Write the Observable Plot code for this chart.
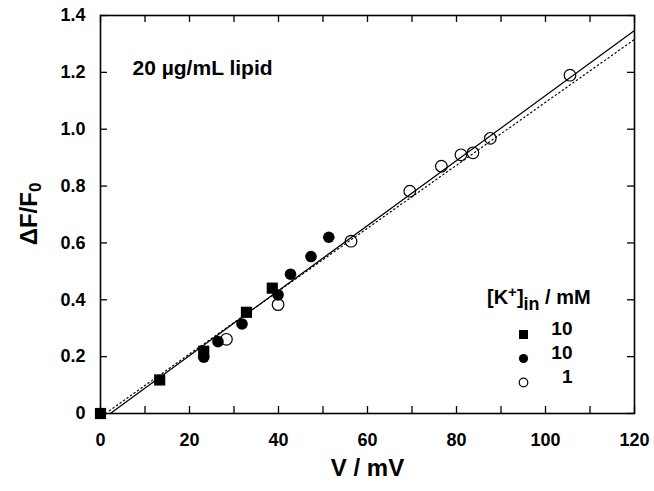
<!DOCTYPE html>
<html>
<head>
<meta charset="utf-8">
<script src="https://cdn.jsdelivr.net/npm/d3@7"></script>
<script src="https://cdn.jsdelivr.net/npm/@observablehq/plot@0.6"></script>
<style>
  html, body { margin: 0; padding: 0; background: #fff; }
  #chart svg { display: block; }
</style>
</head>
<body>
<div id="chart"></div>
<script>
// ---- data ----
const squareX = [0, 13.3, 23.2, 32.8, 38.6];
const squareY = [0, 0.118, 0.219, 0.356, 0.441];
const filledX = [23.2, 26.4, 31.8, 39.9, 42.7, 47.3, 51.3];
const filledY = [0.198, 0.253, 0.315, 0.417, 0.490, 0.552, 0.620];
const openX = [28.3, 39.9, 56.3, 69.5, 76.6, 81.0, 83.7, 87.6, 105.5];
const openY = [0.261, 0.383, 0.606, 0.782, 0.870, 0.910, 0.917, 0.968, 1.19];
// fitted lines (end points)
const solidFitX = [2.2, 120];
const solidFitY = [0, 1.347];
const dottedFitX = [2.0, 120];
const dottedFitY = [0.01, 1.316];
// ticks
const xTicks = [0, 20, 40, 60, 80, 100, 120];
const xMinorTicks = [0, 10, 20, 30, 40, 50, 60, 70, 80, 90, 100, 110, 120];
const yTicks = [0, 0.2, 0.4, 0.6, 0.8, 1.0, 1.2, 1.4];
const legendLabels = ["10", "10", "1"];
const annotation = "20 µg/mL lipid";
const xTitle = "V / mV";

const zip = (xs, ys) => xs.map((x, i) => ({x, y: ys[i]}));
const squares = zip(squareX, squareY);
const filled = zip(filledX, filledY);
const open = zip(openX, openY);
const solidFit = zip(solidFitX, solidFitY);
const dottedFit = zip(dottedFitX, dottedFitY);

const W = 654, H = 491;
const mL = 100, mR = 20, mT = 15, mB = 78;
const plotH = H - mT - mB, plotW = W - mL - mR;
const tickLen = 7;
const FONT = "'Liberation Sans', Arial, Helvetica, sans-serif";

const chart = Plot.plot({
  width: W, height: H,
  marginLeft: mL, marginRight: mR, marginTop: mT, marginBottom: mB,
  style: {fontFamily: FONT, fontWeight: "bold", color: "black", background: "white"},
  x: {domain: [0, 120]},
  y: {domain: [0, 1.4]},
  marks: [
    // inward ticks on all four sides
    Plot.tickX(xMinorTicks, {x: d => d, insetTop: plotH - tickLen, stroke: "black", strokeWidth: 1.3}),
    Plot.tickX(xMinorTicks, {x: d => d, insetBottom: plotH - tickLen, stroke: "black", strokeWidth: 1.3}),
    Plot.tickY(yTicks, {y: d => d, insetRight: plotW - tickLen, stroke: "black", strokeWidth: 1.3}),
    Plot.tickY(yTicks, {y: d => d, insetLeft: plotW - tickLen, stroke: "black", strokeWidth: 1.3}),
    Plot.axisX({ticks: xTicks, tickSize: 0, tickPadding: 20, fontSize: 18, fontWeight: "bold", label: null, tickFormat: d => String(d)}),
    Plot.axisY({ticks: yTicks, tickSize: 0, tickPadding: 15, fontSize: 18, fontWeight: "bold", label: null,
      tickFormat: d => d === 0 ? "0" : d.toFixed(1)}),
    Plot.frame({stroke: "black", strokeWidth: 1.6}),
    // data
    Plot.dot(open, {x: "x", y: "y", r: 5.8, stroke: "black", strokeWidth: 1.2, fill: "none"}),
    Plot.dot(filled, {x: "x", y: "y", r: 5.8, fill: "black"}),
    Plot.dot(squares, {x: "x", y: "y", symbol: "square", r: 6.3, fill: "black"}),
    Plot.line(dottedFit, {x: "x", y: "y", stroke: "black", strokeWidth: 1.2, strokeDasharray: "1.3,3"}),
    Plot.line(solidFit, {x: "x", y: "y", stroke: "black", strokeWidth: 1.3}),
    // annotation and x title
    Plot.text([annotation], {frameAnchor: "top-left", dx: 32, dy: 45, textAnchor: "start", fontSize: 21, fontWeight: "bold", fill: "black"}),
    Plot.text([xTitle], {frameAnchor: "bottom", dy: 62, fontSize: 24, fontWeight: "bold", fill: "black"}),
    // legend
    Plot.dot([0], {frameAnchor: "bottom-right", dx: -111, dy: -79, symbol: "square", r: 5.1, fill: "black"}),
    Plot.dot([0], {frameAnchor: "bottom-right", dx: -111, dy: -55, r: 4.6, fill: "black"}),
    Plot.dot([0], {frameAnchor: "bottom-right", dx: -111, dy: -31, r: 4.3, fill: "none", stroke: "black", strokeWidth: 1.2}),
    Plot.text([legendLabels[0]], {frameAnchor: "bottom-right", dx: -62, dy: -79, textAnchor: "end", fontSize: 19, fontWeight: "bold", fill: "black"}),
    Plot.text([legendLabels[1]], {frameAnchor: "bottom-right", dx: -62, dy: -55, textAnchor: "end", fontSize: 19, fontWeight: "bold", fill: "black"}),
    Plot.text([legendLabels[2]], {frameAnchor: "bottom-right", dx: -62, dy: -31, textAnchor: "end", fontSize: 19, fontWeight: "bold", fill: "black"})
  ]
});

document.getElementById("chart").appendChild(chart);

// rich texts with sub/superscripts
const svg = d3.select(chart);
const yl = svg.append("text")
  .attr("transform", "translate(31,214) rotate(-90)")
  .attr("text-anchor", "middle")
  .attr("dominant-baseline", "middle")
  .style("font-family", FONT).style("font-weight", "bold").style("font-size", "24px").attr("fill", "black");
yl.append("tspan").text("ΔF/F");
yl.append("tspan").attr("dy", 6).style("font-size", "17px").text("0");

const lt = svg.append("text")
  .attr("x", 487).attr("y", 304)
  .attr("text-anchor", "start")
  .style("font-family", FONT).style("font-weight", "bold").style("font-size", "20px").attr("fill", "black");
lt.append("tspan").text("[K");
lt.append("tspan").attr("dy", -7).style("font-size", "15px").text("+");
lt.append("tspan").attr("dy", 7).text("]");
lt.append("tspan").attr("dy", 6).style("font-size", "18px").text("in");
lt.append("tspan").attr("dy", -6).text(" / mM");
</script>
</body>
</html>
